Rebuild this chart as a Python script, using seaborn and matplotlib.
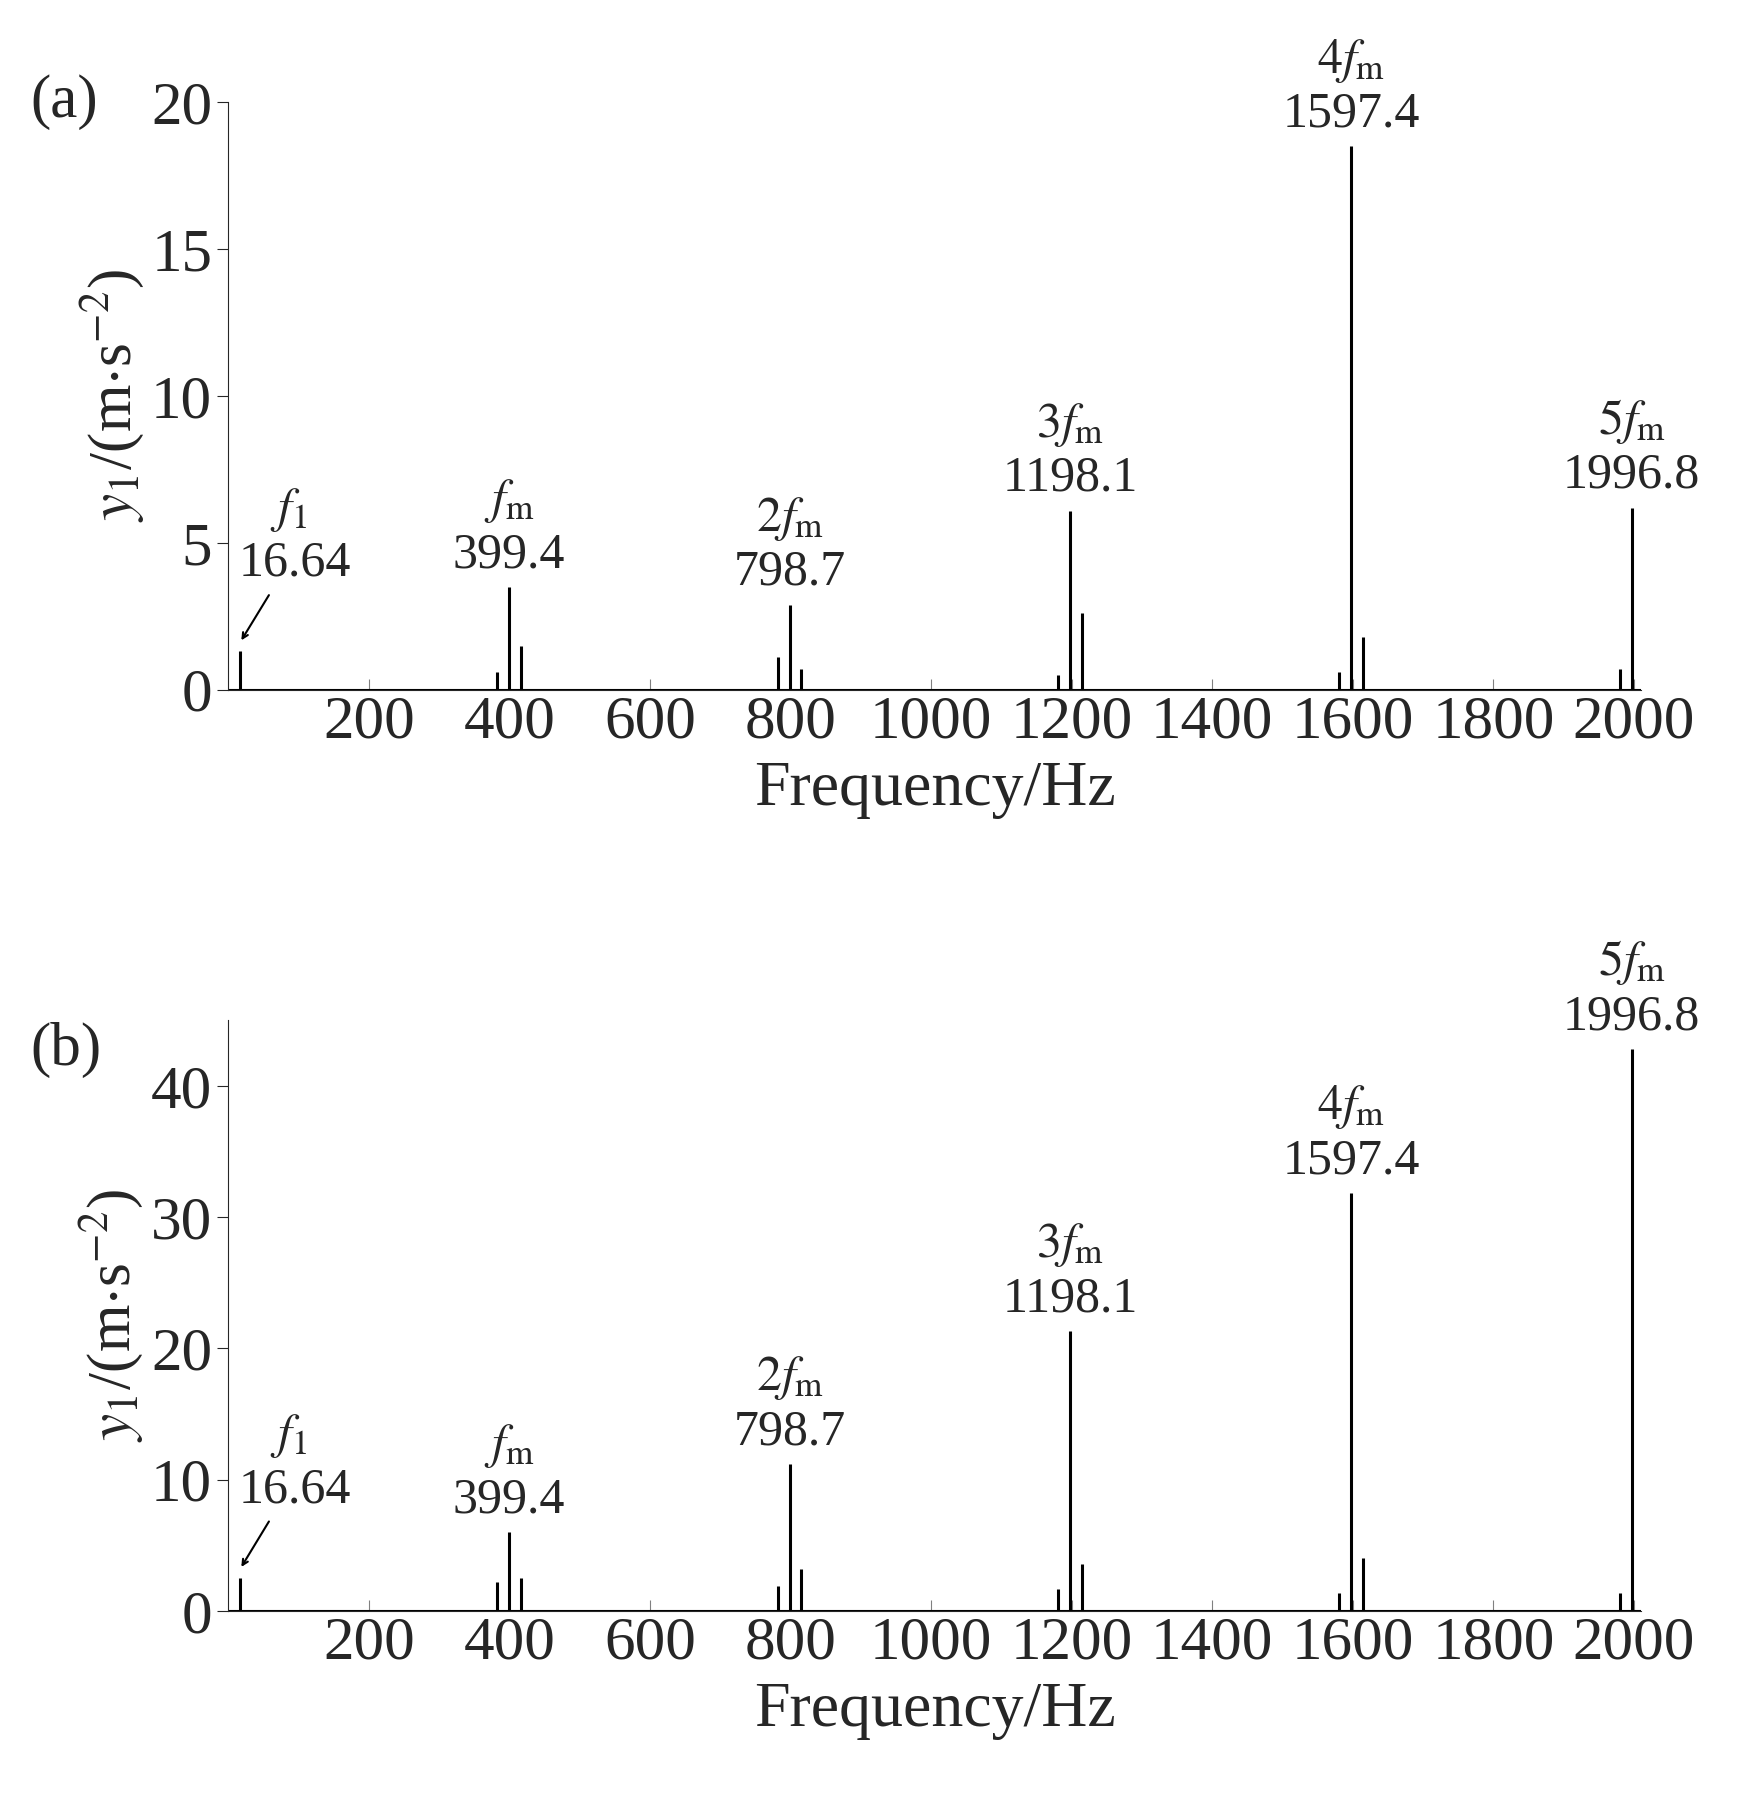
import numpy as np
import matplotlib
matplotlib.use("Agg")
import matplotlib.pyplot as plt
import seaborn as sns

sns.set_style("ticks")
plt.rcParams['font.family'] = ['Liberation Serif', 'DejaVu Serif']
plt.rcParams['mathtext.fontset'] = 'stix'

# peak frequencies (Hz)
freq = [16.64, 383.0, 399.4, 416.0, 782.0, 798.7, 815.0, 1181.0, 1198.1, 1215.0,
        1580.0, 1597.4, 1614.0, 1980.0, 1996.8]
amp_a = [1.3, 0.6, 3.5, 1.5, 1.1, 2.9, 0.7, 0.5, 6.1, 2.6, 0.6, 18.5, 1.8, 0.7, 6.2]
amp_b = [2.5, 2.2, 6.0, 2.5, 1.9, 11.2, 3.2, 1.7, 21.3, 3.6, 1.4, 31.8, 4.0, 1.4, 42.8]

labels = [r"$f_{\mathrm{m}}$", r"$2f_{\mathrm{m}}$", r"$3f_{\mathrm{m}}$",
          r"$4f_{\mathrm{m}}$", r"$5f_{\mathrm{m}}$"]
label_freq = [399.4, 798.7, 1198.1, 1597.4, 1996.8]
label_text = ["399.4", "798.7", "1198.1", "1597.4", "1996.8"]

fig = plt.figure(figsize=(17.42, 17.96), dpi=100)
axa = fig.add_axes([0.131, 0.616, 0.811, 0.327])
axb = fig.add_axes([0.131, 0.103, 0.811, 0.329])

fs = 44
for ax, amp, ylim, yt, tag in [(axa, amp_a, 20, [0, 5, 10, 15, 20], "(a)"),
                               (axb, amp_b, 45, [0, 10, 20, 30, 40], "(b)")]:
    ax.vlines(freq, 0, amp, color="black", lw=2.2)
    ax.axhline(0, color="black", lw=1.5)
    ax.set_xlim(0, 2010)
    ax.set_ylim(0, ylim)
    ax.set_xticks(range(200, 2001, 200))
    ax.set_yticks(yt)
    ax.tick_params(axis="x", direction="in", length=8, labelsize=fs, color="gray")
    ax.tick_params(axis="y", direction="out", length=8, labelsize=fs)
    sns.despine(ax=ax)
    ax.set_xlabel("Frequency/Hz", fontsize=46, labelpad=8)
    ax.set_ylabel(r"$y_1$/(m$\cdot$s$^{-2}$)", fontsize=fs)
    ax.text(-0.14, 1.0 if tag == "(a)" else 0.95, tag, transform=ax.transAxes,
            fontsize=fs, ha="left", va="center")
    off = ylim * 0.015
    for lf, lab, txt in zip(label_freq, labels, label_text):
        a = amp[freq.index(lf)]
        ax.text(lf, a + off, txt, ha="center", va="bottom", fontsize=36)
        ax.text(lf, a + off + ylim * 0.09, lab, ha="center", va="bottom", fontsize=36)
    a1 = amp[0]
    ax.annotate("", xy=(16.64, a1 + off), xytext=(60, a1 + ylim * 0.1),
                arrowprops=dict(arrowstyle="->", color="black", lw=1.5))
    ax.text(15, a1 + ylim * 0.11, "16.64", ha="left", va="bottom", fontsize=36)
    ax.text(60, a1 + ylim * 0.2, r"$f_1$", ha="left", va="bottom", fontsize=36)

fig.savefig("out.png", dpi=100)
